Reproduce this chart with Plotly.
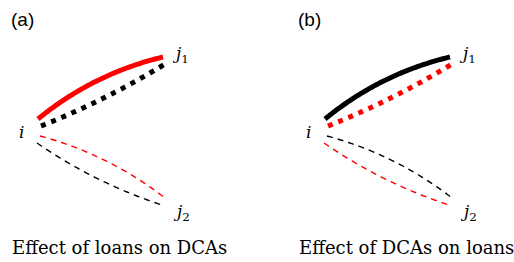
import numpy as np
import plotly.graph_objects as go

# ---- data -------------------------------------------------------------
panel_labels = ["(a)", "(b)"]
captions = ["Effect of loans on DCAs", "Effect of DCAs on loans"]
panel_offsets = [0, 287]          # horizontal offset of each panel

node_names = ["<i>i</i>", "<i>j</i><sub>1</sub>", "<i>j</i><sub>2</sub>"]
node_x = [21.5, 180, 181]
node_y = [132, 54, 212]

# edges (shared geometry): start, end, bow (positive = bulge upward)
edge_x0 = [38, 41, 40, 37]
edge_y0 = [119, 126, 136, 143]
edge_x1 = [163, 165, 165, 162]
edge_y1 = [57, 64, 198, 205]
edge_bow = [8, -3, 7, -5]
edge_style = ["solid", "dotted", "dashed", "dashed"]
edge_colors = [
    ["#ff0000", "#000000", "#ff0000", "#000000"],   # panel (a)
    ["#000000", "#ff0000", "#000000", "#ff0000"],   # panel (b)
]

styles = {
    "solid": dict(width=5, dash="solid"),
    "dotted": dict(width=5, dash="5px,6px"),
    "dashed": dict(width=1.4, dash="6px,5px"),
}

SERIF = "DejaVu Serif, Liberation Serif, serif"


def bezier(x0, y0, x1, y1, bow, n=80):
    mx, my = (x0 + x1) / 2, (y0 + y1) / 2
    dx, dy = x1 - x0, y1 - y0
    L = np.hypot(dx, dy)
    nx, ny = dy / L, -dx / L
    if ny > 0:
        nx, ny = -nx, -ny
    cx, cy = mx + 2 * bow * nx, my + 2 * bow * ny
    t = np.linspace(0, 1, n)
    bx = (1 - t) ** 2 * x0 + 2 * (1 - t) * t * cx + t ** 2 * x1
    by = (1 - t) ** 2 * y0 + 2 * (1 - t) * t * cy + t ** 2 * y1
    return bx, by


fig = go.Figure()
annotations = []
for p, off in enumerate(panel_offsets):
    for k in range(len(edge_x0)):
        bx, by = bezier(edge_x0[k] + off, edge_y0[k], edge_x1[k] + off,
                        edge_y1[k], edge_bow[k])
        st = styles[edge_style[k]]
        fig.add_trace(go.Scatter(
            x=bx, y=by, mode="lines", hoverinfo="skip", showlegend=False,
            line=dict(color=edge_colors[p][k], width=st["width"],
                      dash=st["dash"], simplify=False),
        ))
    for name, nx_, ny_ in zip(node_names, node_x, node_y):
        annotations.append(dict(
            x=nx_ + off, y=ny_, xref="x", yref="y", text=name, showarrow=False,
            xanchor="center", yanchor="middle",
            font=dict(family=SERIF, size=17, color="black"),
        ))
    annotations.append(dict(
        x=9 + off, y=19, xref="x", yref="y", text=panel_labels[p],
        showarrow=False, xanchor="left", yanchor="middle",
        font=dict(family="Liberation Sans, Arial, sans-serif", size=19, color="black"),
    ))
    annotations.append(dict(
        x=119.5 + off, y=247, xref="x", yref="y", text=captions[p],
        showarrow=False, xanchor="center", yanchor="middle",
        font=dict(family=SERIF, size=18, color="black"),
    ))

fig.update_layout(
    width=514, height=262, margin=dict(l=0, r=0, t=0, b=0),
    paper_bgcolor="white", plot_bgcolor="white",
    xaxis=dict(range=[0, 514], visible=False, fixedrange=True),
    yaxis=dict(range=[262, 0], visible=False, fixedrange=True),
    annotations=annotations,
)
fig.write_html(
    "out.html",
    config={"displayModeBar": False},
    post_script="document.body.style.margin='0';document.body.style.overflow='hidden';",
)
